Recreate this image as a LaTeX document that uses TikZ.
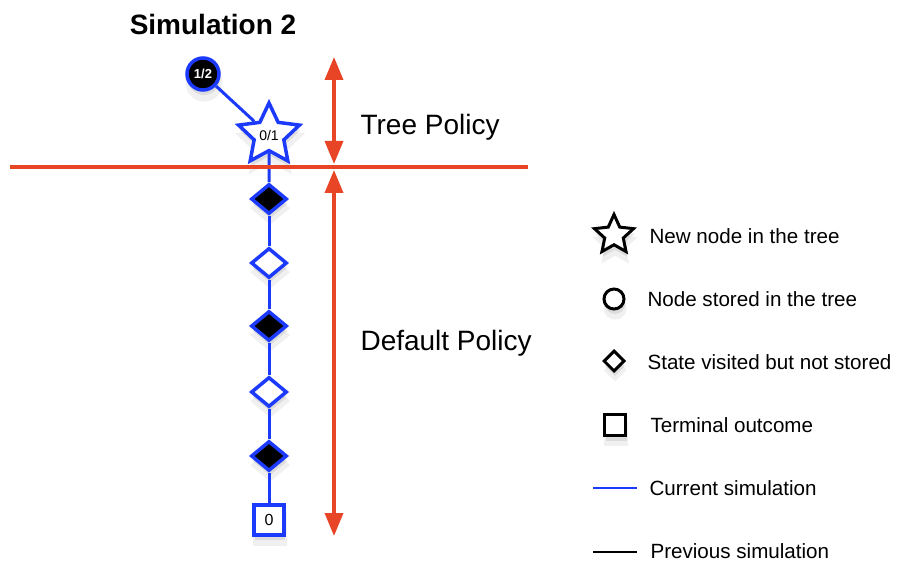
\documentclass[tikz,border=0pt]{standalone}
\usepackage{fontspec}
\setmainfont{Liberation Sans}
\usepackage{tikz}
\usetikzlibrary{shapes.geometric,arrows.meta,shadows}
\definecolor{simblue}{RGB}{28,58,252}
\definecolor{polred}{RGB}{232,68,38}
\tikzset{
  softshadow/.style={drop shadow={shadow xshift=1pt,shadow yshift=-8pt,shadow scale=1.15,opacity=.12},
                     drop shadow={shadow xshift=1pt,shadow yshift=-5pt,opacity=.18}},
  treenode/.style={circle,draw=simblue,line width=3.5pt,fill=black,text=white,inner sep=0pt,
                   minimum size=32pt,font=\bfseries\fontsize{13}{13}\selectfont,softshadow},
  newnode/.style={star,star points=5,star point ratio=2.05,draw=simblue,line width=3.5pt,fill=white,
                  inner sep=0pt,minimum size=64pt,font=\fontsize{14}{14}\selectfont,softshadow},
  visited/.style={diamond,draw=simblue,line width=3.5pt,inner sep=0pt,minimum width=36pt,
                  minimum height=30pt,softshadow},
  outcome/.style={rectangle,draw=simblue,line width=3.5pt,fill=white,inner sep=0pt,minimum size=30pt,
                  font=\fontsize{16}{16}\selectfont,softshadow},
  current/.style={simblue,line width=3pt},
  policy/.style={polred,line width=3.5pt,{Triangle[width=18pt,length=23pt]}-{Triangle[width=18pt,length=23pt]}},
  big/.style={font=\fontsize{28}{28}\selectfont},
  key/.style={anchor=west,font=\fontsize{20.6}{20.6}\selectfont},
  keysym/.style={draw=black,line width=3pt,fill=white,inner sep=0pt,softshadow}
}
\begin{document}
\begin{tikzpicture}[x=1pt,y=-1pt]
\useasboundingbox (0,0) rectangle (902,564);
%title
\node[font=\bfseries\fontsize{28}{28}\selectfont] (title) at (213,24) {Simulation 2};
%tree
\node[treenode] (root) at (203,74) {1/2};
\node[newnode] (new) at (269,135) {0/1};
%default policy
\node[visited,fill=black] (d1) at (269,199) {};
\node[visited,fill=white] (d2) at (269,263) {};
\node[visited,fill=black] (d3) at (269,326) {};
\node[visited,fill=white] (d4) at (269,392) {};
\node[visited,fill=black] (d5) at (269,456) {};
\node[outcome] (leaf) at (269,520) {0};
%simulation
\draw[current] (root) -- (new);
\draw[current] (new) -- (d1);
\draw[current] (d1) -- (d2);
\draw[current] (d2) -- (d3);
\draw[current] (d3) -- (d4);
\draw[current] (d4) -- (d5);
\draw[current] (d5) -- (leaf);
%boundary
\coordinate (cutL) at (10,167);
\coordinate (cutR) at (528,167);
\draw[polred,line width=3.5pt] (cutL) -- (cutR);
\coordinate (tpTop) at (334,57);
\coordinate (tpBot) at (334,164);
\coordinate (dpTop) at (334,170);
\coordinate (dpBot) at (334,536);
\draw[policy] (tpTop) -- (tpBot);
\draw[policy] (dpTop) -- (dpBot);
\node[big,anchor=west] (tp) at (357,127) {Tree Policy};
\node[big,anchor=west] (dp) at (357,343) {Default Policy};
%legend
\node[keysym,star,star points=5,star point ratio=2.1,minimum size=41pt] (kstar) at (614,235) {};
\node[key] (kstarT) at (646,236) {New node in the tree};
\node[keysym,circle,minimum size=20pt] (kcirc) at (614,299) {};
\node[key] (kcircT) at (644,299) {Node stored in the tree};
\node[keysym,diamond,minimum size=21pt] (kdiam) at (614,361) {};
\node[key] (kdiamT) at (644,362) {State visited but not stored};
\node[keysym,rectangle,minimum size=21pt] (ksq) at (615,425) {};
\node[key] (ksqT) at (647,425) {Terminal outcome};
\coordinate (kcurL) at (593,488);
\coordinate (kcurR) at (637,488);
\draw[simblue,line width=2.5pt] (kcurL) -- (kcurR);
\node[key] (kcurT) at (646,488) {Current simulation};
\coordinate (kprevL) at (593,552);
\coordinate (kprevR) at (637,552);
\draw[black,line width=2.5pt] (kprevL) -- (kprevR);
\node[key] (kprevT) at (647,551) {Previous simulation};
\end{tikzpicture}
\end{document}
